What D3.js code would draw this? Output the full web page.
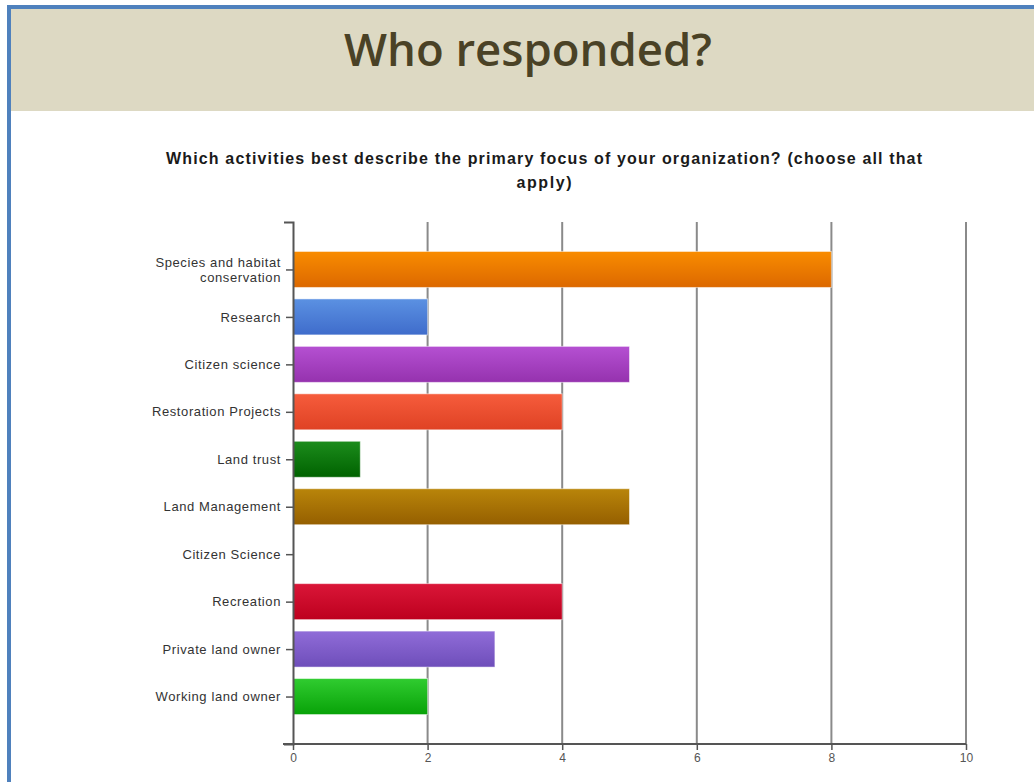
<!DOCTYPE html>
<html lang="en">
<head>
<meta charset="UTF-8">
<title>Who responded?</title>
<script src="https://d3js.org/d3.v7.min.js"></script>
<style>
  body { margin: 0; padding: 0; background: #fff; overflow: hidden; }
  svg { display: block; }
  .tick text { font-family: 'Liberation Sans', Arial, sans-serif; }
</style>
</head>
<body>
<div id="chart"></div>
<script>
  const categories = [
    "Species and habitat conservation", "Research", "Citizen science",
    "Restoration Projects", "Land trust", "Land Management",
    "Citizen Science", "Recreation", "Private land owner", "Working land owner"
  ];
  const counts = [8, 2, 5, 4, 1, 5, 0, 4, 3, 2];
  const xTicks = [0, 2, 4, 6, 8, 10];
  // top / bottom colours of each bar's gradient
  const topColors = ["#f98c00", "#5b91e2", "#b550d2", "#f65c3c", "#1c8c1c", "#b9850a", "#999999", "#da1638", "#906cd8", "#30cc30"];
  const bottomColors = ["#dc6800", "#3f6ccb", "#9532ae", "#df4224", "#006200", "#955f00", "#777777", "#bd001e", "#6e4eba", "#08a208"];

  const W = 1034, H = 782;
  const svg = d3.select("#chart").append("svg").attr("width", W).attr("height", H);
  const defs = svg.append("defs");

  // slide frame + header band
  svg.append("rect").attr("x", 11).attr("y", 9).attr("width", W - 11).attr("height", 102).attr("fill", "#ddd9c3");
  svg.append("rect").attr("x", 7).attr("y", 5).attr("width", W - 7).attr("height", 4).attr("fill", "#4f81bd");
  svg.append("rect").attr("x", 7).attr("y", 5).attr("width", 4).attr("height", H - 5).attr("fill", "#4f81bd");

  svg.append("text")
     .attr("x", 528).attr("y", 66)
     .attr("text-anchor", "middle")
     .attr("font-family", "'Open Sans', sans-serif")
     .attr("font-weight", 600)
     .attr("font-size", 46)
     .attr("fill", "#4a4226")
     .attr("textLength", 368)
     .attr("lengthAdjust", "spacingAndGlyphs")
     .text("Who responded?");

  // chart title
  const title = svg.append("text")
     .attr("text-anchor", "middle")
     .attr("font-family", "'Liberation Sans', Arial, sans-serif")
     .attr("font-weight", "bold")
     .attr("font-size", 16)
     .attr("fill", "#1a1a1a");
  title.append("tspan").attr("x", 544).attr("y", 164)
       .attr("textLength", 756).attr("lengthAdjust", "spacing")
       .text("Which activities best describe the primary focus of your organization? (choose all that");
  title.append("tspan").attr("x", 544).attr("y", 188)
       .attr("textLength", 55).attr("lengthAdjust", "spacing").text("apply)");

  const x = d3.scaleLinear().domain([0, 10]).range([293, 966]);
  const y = d3.scalePoint().domain(categories).range([222, 744]).padding(1);
  const barH = 36;

  // vertical gridlines
  svg.append("g").selectAll("line")
     .data(xTicks.slice(1))
     .join("line")
     .attr("x1", d => x(d)).attr("x2", d => x(d))
     .attr("y1", 222).attr("y2", 744)
     .attr("stroke", "#8a8a8a").attr("stroke-width", 2);

  // gradients
  categories.forEach((c, i) => {
    const g = defs.append("linearGradient").attr("id", "g" + i)
                  .attr("x1", 0).attr("y1", 0).attr("x2", 0).attr("y2", 1);
    g.append("stop").attr("offset", "0%").attr("stop-color", topColors[i]);
    g.append("stop").attr("offset", "100%").attr("stop-color", bottomColors[i]);
  });

  // bars
  svg.append("g").selectAll("rect")
     .data(categories.map((c, i) => ({ c, v: counts[i], i })))
     .join("rect")
     .attr("x", x(0))
     .attr("y", d => y(d.c) - barH / 2)
     .attr("width", d => x(d.v) - x(0))
     .attr("height", barH)
     .attr("fill", d => `url(#g${d.i})`)
     .attr("stroke", "rgba(255,255,255,0.5)")
     .attr("stroke-width", 1);

  // y axis
  const yAxis = svg.append("g").attr("transform", `translate(${x(0)},0)`)
     .call(d3.axisLeft(y).tickSize(7).tickSizeOuter(9));
  yAxis.select(".domain").attr("stroke", "#555").attr("stroke-width", 2);
  yAxis.selectAll(".tick line").attr("stroke", "#555").attr("stroke-width", 1.5);
  yAxis.selectAll(".tick text")
       .attr("font-size", 13).attr("fill", "#333").attr("x", -12)
       .attr("letter-spacing", "0.6px")
       .each(function (d) {
         if (d === "Species and habitat conservation") {
           const t = d3.select(this).text(null);
           t.append("tspan").attr("x", -12).attr("dy", "-0.25em").text("Species and habitat");
           t.append("tspan").attr("x", -12).attr("dy", "1.2em").text("conservation");
         }
       });

  // x axis
  const xAxis = svg.append("g").attr("transform", "translate(0,744)")
     .call(d3.axisBottom(x).tickValues(xTicks).tickSize(6).tickSizeOuter(0));
  xAxis.select(".domain").attr("stroke", "#555").attr("stroke-width", 2).attr("d", `M283,0H${x(10)}`);
  xAxis.selectAll(".tick line").attr("stroke", "#555").attr("stroke-width", 1.5);
  xAxis.selectAll(".tick text").attr("font-size", 12).attr("fill", "#555").attr("dy", "0.75em");
</script>
</body>
</html>
